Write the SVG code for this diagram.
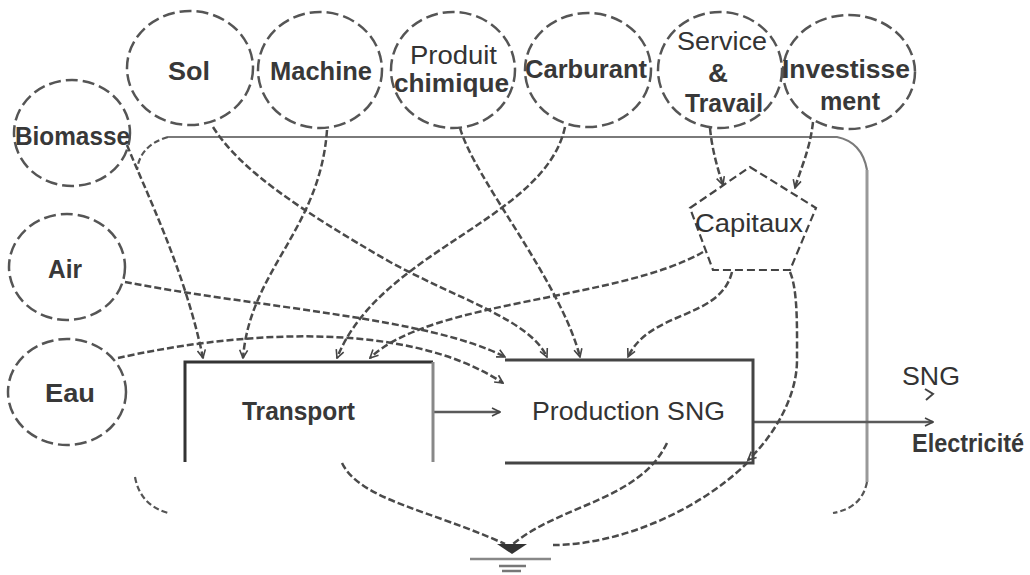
<svg xmlns="http://www.w3.org/2000/svg" width="1030" height="575" viewBox="0 0 1030 575">
<defs>
<style>
.bg{fill:#fff}
.res{fill:none;stroke:#555;stroke-width:2.5;stroke-dasharray:12 5}
.cap{fill:none;stroke:#444;stroke-width:2.2;stroke-dasharray:8 4}
.con{fill:none;stroke:#4a4a4a;stroke-width:2.5;stroke-dasharray:7 3}
.solid{fill:none;stroke:#5a5a5a;stroke-width:2.5}
.bound{fill:none;stroke:#7a7a7a;stroke-width:2.2}
.bdash{fill:none;stroke:#555;stroke-width:2.2;stroke-dasharray:6 3}
.t{font-family:"Liberation Sans",Arial,sans-serif;font-size:25px;fill:#333}
.b{font-weight:bold;fill:#383838}
</style>
<marker id="arr" viewBox="0 0 10 10" refX="9" refY="5" markerWidth="10" markerHeight="10" markerUnits="userSpaceOnUse" orient="auto">
<path d="M1,1 L9,5 L1,9" fill="none" stroke="#444" stroke-width="1.6"/>
</marker>
</defs>
<rect class="bg" width="1030" height="575"/>

<g id="boundary">
<path class="bdash" d="M168,137 Q140,145 137,170"/>
<path class="bound" d="M168,137 L837,137 Q862,142 867,170"/>
<path fill="none" stroke="#999" stroke-width="3" d="M867,170 L867,482"/>
<path class="bdash" d="M867,482 Q862,508 833,513"/>
<path class="bdash" stroke="#777" d="M135,477 Q140,505 168,513"/>
</g>

<g id="connectors">
<path class="con" marker-end="url(#arr)" d="M127,145 C145,190 185,270 203,358"/>
<path class="con" marker-end="url(#arr)" d="M327,130 C320,230 250,270 243,358"/>
<path class="con" marker-end="url(#arr)" d="M565,127 C545,220 380,250 337,358"/>
<path class="con" marker-end="url(#arr)" d="M703,252 C620,300 430,300 370,358"/>
<path class="con" marker-end="url(#arr)" d="M125,282 C260,308 430,318 505,357"/>
<path class="con" marker-end="url(#arr)" d="M118,358 C220,335 400,315 503,383"/>
<path class="con" marker-end="url(#arr)" d="M213,127 C240,170 300,210 390,262 C460,300 530,320 547,357"/>
<path class="con" marker-end="url(#arr)" d="M460,128 C475,180 560,280 580,357"/>
<path class="con" marker-end="url(#arr)" d="M732,272 C720,320 650,310 628,357"/>
<path class="con" marker-end="url(#arr)" d="M710,128 C712,150 718,170 723,185"/>
<path class="con" marker-end="url(#arr)" d="M813,122 C810,150 800,170 795,188"/>
<path class="solid" marker-end="url(#arr)" d="M433,412 L500,412"/>
<path class="solid" stroke="#666" marker-end="url(#arr)" d="M753,422 L933,422"/>
<path fill="none" stroke="#444" stroke-width="2" d="M925,389 L933,394 L926,400"/>
<path class="con" d="M342,463 C360,500 430,510 505,544"/>
<path class="con" d="M667,443 C640,500 560,505 513,544"/>
<path class="con" marker-end="url(#arr)" d="M790,272 C798,290 797,330 797,360 C797,400 770,440 748,460"/>
<path class="con" d="M748,462 C700,510 620,545 553,545"/>
</g>

<g id="ground">
<polygon points="497,544 527,544 512,554" fill="#333"/>
<path stroke="#888" stroke-width="2.5" d="M470,559 L551,559"/>
<path stroke="#777" stroke-width="2.5" d="M499,566 L526,566"/>
<path stroke="#777" stroke-width="2.5" d="M502,571 L521,571"/>
</g>

<g id="sol"><ellipse class="res" cx="190" cy="68" rx="63" ry="57"/><text class="t b" x="168" y="80" textLength="42" lengthAdjust="spacingAndGlyphs">Sol</text></g>
<g id="machine"><ellipse class="res" cx="320" cy="70" rx="62" ry="58"/><text class="t b" x="270" y="80" textLength="102" lengthAdjust="spacingAndGlyphs">Machine</text></g>
<g id="produit"><ellipse class="res" cx="453" cy="70" rx="62" ry="58"/><text class="t" x="410" y="64" textLength="87" lengthAdjust="spacingAndGlyphs">Produit</text><text class="t b" x="394" y="92" textLength="115" lengthAdjust="spacingAndGlyphs">chimique</text></g>
<g id="carburant"><ellipse class="res" cx="588" cy="70" rx="63" ry="57"/><text class="t b" x="525" y="78" textLength="122" lengthAdjust="spacingAndGlyphs">Carburant</text></g>
<g id="service"><ellipse class="res" cx="720" cy="70" rx="62" ry="58"/><text class="t" x="677" y="50" textLength="90" lengthAdjust="spacingAndGlyphs">Service</text><text class="t b" x="708" y="82" textLength="20" lengthAdjust="spacingAndGlyphs">&amp;</text><text class="t b" x="685" y="112" textLength="78" lengthAdjust="spacingAndGlyphs">Travail</text></g>
<g id="investissement"><ellipse class="res" cx="849" cy="72" rx="66" ry="57"/><text class="t b" x="782" y="78" textLength="128" lengthAdjust="spacingAndGlyphs">Investisse</text><text class="t b" x="820" y="110" textLength="60" lengthAdjust="spacingAndGlyphs">ment</text></g>
<g id="biomasse"><ellipse class="res" cx="72" cy="133" rx="58" ry="53"/><text class="t b" x="15" y="145" textLength="115" lengthAdjust="spacingAndGlyphs">Biomasse</text></g>
<g id="air"><ellipse class="res" cx="67" cy="267" rx="58" ry="53"/><text class="t b" x="48" y="278" textLength="34" lengthAdjust="spacingAndGlyphs">Air</text></g>
<g id="eau"><ellipse class="res" cx="67" cy="392" rx="59" ry="53"/><text class="t b" x="45" y="402" textLength="50" lengthAdjust="spacingAndGlyphs">Eau</text></g>
<g id="capitaux"><polygon class="cap" points="750,167 816,208 790,270 713,270 690,208"/><text class="t" x="695" y="232" textLength="108" lengthAdjust="spacingAndGlyphs">Capitaux</text></g>

<g id="transport">
<path fill="none" stroke="#333" stroke-width="3" d="M185,462 L185,362 L433,362"/>
<path fill="none" stroke="#888" stroke-width="3" d="M433,362 L433,462"/>
<text class="t b" x="242" y="420" textLength="113" lengthAdjust="spacingAndGlyphs">Transport</text>
</g>
<g id="production">
<path fill="none" stroke="#444" stroke-width="3" d="M505,360 L753,360 L753,463 L505,463"/>
<text class="t" x="532" y="420" textLength="193" lengthAdjust="spacingAndGlyphs">Production SNG</text>
</g>
<g id="outputs">
<text class="t" x="902" y="385" textLength="58" lengthAdjust="spacingAndGlyphs">SNG</text>
<text class="t b" x="912" y="452" textLength="112" lengthAdjust="spacingAndGlyphs">Electricité</text>
</g>
</svg>
